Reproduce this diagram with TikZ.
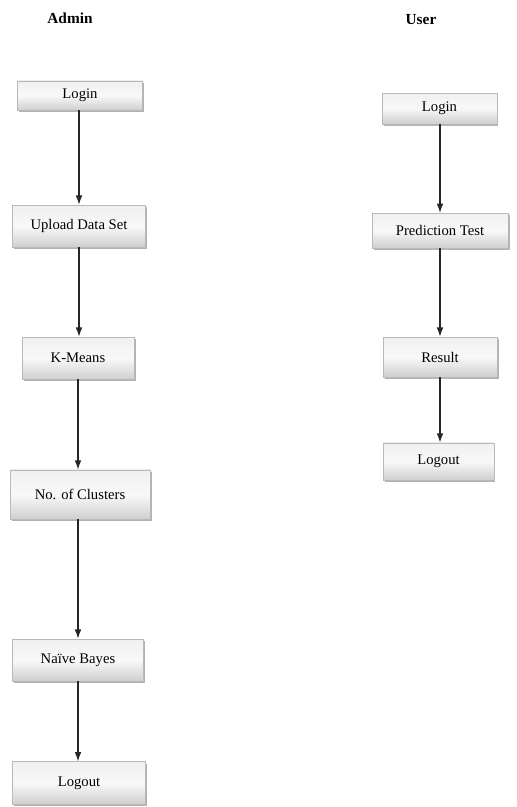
\documentclass[tikz,border=0pt]{standalone}
\usepackage{fontspec}
\setmainfont{Liberation Serif}
\usetikzlibrary{arrows.meta,shadows}
\begin{document}
\begin{tikzpicture}[x=0.75pt,y=-0.75pt,
  every node/.style={font=\fontsize{11}{13}\selectfont},
  stepbox/.style={draw=gray!55, line width=0.3pt, top color=gray!12, bottom color=gray!38,
    middle color=gray!5, inner sep=2pt,
    drop shadow={shadow xshift=1.2pt, shadow yshift=-1.5pt, fill=gray!75, opacity=0.8}},
  title/.style={font=\fontsize{11.5}{13}\selectfont\bfseries},
  flow/.style={-{Latex[length=7pt,width=5pt]}, line width=0.9pt, black!85}]
\useasboundingbox (0,0) rectangle (517,807);
\node[title] (admin) at (70,18) {Admin};
\node[title] (user) at (421,20) {User};
\node[stepbox, minimum width=94pt, minimum height=22pt] (aLogin) at (80,95.5) {Login};
\node[stepbox, minimum width=100pt, minimum height=31.5pt] (aUpload) at (79,226) {Upload Data Set};
\node[stepbox, minimum width=84pt, minimum height=31.5pt] (aKMeans) at (78,358) {K-Means};
\node[stepbox, minimum width=105pt, minimum height=37pt] (aClusters) at (80,494.5) {No. of Clusters};
\node[stepbox, minimum width=98pt, minimum height=31.5pt] (aBayes) at (78,660) {Naïve Bayes};
\node[stepbox, minimum width=100pt, minimum height=32pt] (aLogout) at (79,783) {Logout};
\node[stepbox, minimum width=86pt, minimum height=23pt] (uLogin) at (439.5,108.5) {Login};
\node[stepbox, minimum width=102pt, minimum height=26pt] (uPredict) at (440,230.5) {Prediction Test};
\node[stepbox, minimum width=85.5pt, minimum height=30pt] (uResult) at (440,357) {Result};
\node[stepbox, minimum width=83pt, minimum height=28pt] (uLogout) at (438.5,461.5) {Logout};
\draw[flow] (aLogin.south -| aUpload) -- (aUpload.north);
\draw[flow] (aUpload.south) -- (aUpload.south |- aKMeans.north);
\draw[flow] (aKMeans.south) -- (aKMeans.south |- aClusters.north);
\draw[flow] (aClusters.south -| aBayes) -- (aBayes.north);
\draw[flow] (aBayes.south) -- (aBayes.south |- aLogout.north);
\draw[flow] (uLogin.south -| uPredict) -- (uPredict.north);
\draw[flow] (uPredict.south) -- (uPredict.south |- uResult.north);
\draw[flow] (uResult.south) -- (uResult.south |- uLogout.north);
\end{tikzpicture}
\end{document}
